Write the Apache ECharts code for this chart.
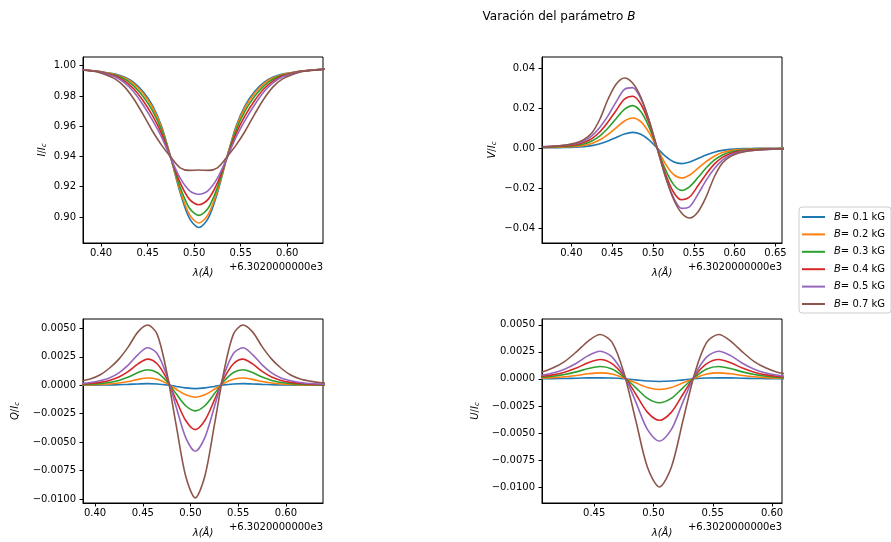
<!DOCTYPE html>
<html><head><meta charset="utf-8">
<script src="https://cdn.jsdelivr.net/npm/echarts@6/dist/echarts.min.js"></script>
<style>html,body{margin:0;padding:0;background:#fff}#c{width:891px;height:542px}</style>
</head><body><div id="c"></div>
<script>
// wavelength offsets (Å) relative to 6302.0 Å
const lam = [0.365,0.375,0.385,0.395,0.405,0.415,0.425,0.435,0.445,0.455,0.465,0.475,0.485,0.495,0.505,0.515,0.525,0.535,0.545,0.555,0.565,0.575,0.585,0.595,0.605,0.615,0.625,0.635,0.645,0.655,0.665];
const names = ["B= 0.1 kG","B= 0.2 kG","B= 0.3 kG","B= 0.4 kG","B= 0.5 kG","B= 0.7 kG"];

// Stokes I / Ic
const I_01 = [0.998,0.9975,0.997,0.9965,0.9955,0.9945,0.9925,0.989,0.983,0.974,0.960,0.939,0.916,0.899,0.893,0.899,0.916,0.939,0.960,0.974,0.983,0.989,0.9925,0.9945,0.9955,0.9965,0.997,0.9975,0.998,0.9982,0.9984];
const I_02 = [0.998,0.9975,0.997,0.9965,0.9954,0.9942,0.992,0.9882,0.9818,0.9727,0.959,0.939,0.9173,0.9015,0.896,0.9015,0.9173,0.939,0.959,0.9727,0.9818,0.9882,0.992,0.9942,0.9954,0.9965,0.997,0.9975,0.998,0.9982,0.9984];
const I_03 = [0.998,0.9975,0.997,0.9964,0.9952,0.9938,0.9912,0.9867,0.9798,0.9704,0.9574,0.9389,0.9195,0.9057,0.901,0.9057,0.9195,0.9389,0.9574,0.9704,0.9798,0.9867,0.9912,0.9938,0.9952,0.9964,0.997,0.9975,0.998,0.9982,0.9984];
const I_04 = [0.998,0.9975,0.997,0.9963,0.995,0.9933,0.99,0.9848,0.977,0.9673,0.9551,0.9388,0.9225,0.9116,0.908,0.9116,0.9225,0.9388,0.9551,0.9673,0.977,0.9848,0.99,0.9933,0.995,0.9963,0.997,0.9975,0.998,0.9982,0.9984];
const I_05 = [0.9979,0.9974,0.9969,0.9962,0.9947,0.9927,0.9888,0.9828,0.9742,0.9642,0.9528,0.9387,0.9256,0.9174,0.915,0.9174,0.9256,0.9387,0.9528,0.9642,0.9742,0.9828,0.9888,0.9927,0.9947,0.9962,0.9969,0.9974,0.9979,0.9981,0.9983];
const I_07 = [0.9979,0.9974,0.9968,0.996,0.9941,0.9913,0.9862,0.9782,0.968,0.957,0.9475,0.9395,0.9325,0.9308,0.931,0.9308,0.9325,0.9395,0.9475,0.957,0.968,0.9782,0.9862,0.9913,0.9941,0.996,0.9968,0.9974,0.9979,0.9981,0.9983];

// Stokes V / Ic
const V_01 = [0.00012,0.00016,0.0002,0.0003,0.0004,0.0007,0.0012,0.0021,0.0035,0.0053,0.0070,0.0078,0.0069,0.0041,0,-0.0041,-0.0069,-0.0078,-0.0070,-0.0053,-0.0035,-0.0021,-0.0012,-0.0007,-0.0004,-0.0003,-0.0002,-0.00016,-0.00012,-0.0001,-0.00008];
const V_02 = [0.00024,0.0003,0.0004,0.0006,0.0008,0.0013,0.0023,0.0041,0.0068,0.0102,0.0135,0.0150,0.0132,0.0078,0,-0.0078,-0.0132,-0.0150,-0.0135,-0.0102,-0.0068,-0.0041,-0.0023,-0.0013,-0.0008,-0.0006,-0.0004,-0.0003,-0.00024,-0.0002,-0.00016];
const V_03 = [0.0004,0.0005,0.00066,0.0009,0.0013,0.0020,0.0035,0.0061,0.0100,0.0148,0.0193,0.0212,0.0182,0.0106,0,-0.0106,-0.0182,-0.0212,-0.0193,-0.0148,-0.0100,-0.0061,-0.0035,-0.0020,-0.0013,-0.0009,-0.00066,-0.0005,-0.0004,-0.0003,-0.00025];
const V_04 = [0.0005,0.00066,0.0009,0.0012,0.0017,0.0028,0.0047,0.0081,0.0131,0.0189,0.0244,0.0259,0.0220,0.0126,0,-0.0126,-0.0220,-0.0259,-0.0244,-0.0189,-0.0131,-0.0081,-0.0047,-0.0028,-0.0017,-0.0012,-0.0009,-0.00066,-0.0005,-0.0004,-0.0003];
const V_05 = [0.0006,0.0008,0.0011,0.0015,0.0021,0.0035,0.0061,0.0104,0.0162,0.0232,0.0293,0.0302,0.0247,0.0140,0,-0.0140,-0.0247,-0.0302,-0.0293,-0.0232,-0.0162,-0.0104,-0.0061,-0.0035,-0.0021,-0.0015,-0.0011,-0.0008,-0.0006,-0.0005,-0.0004];
const V_07 = [0.0006,0.0008,0.0011,0.0016,0.0025,0.0042,0.0075,0.0145,0.0245,0.0320,0.0350,0.0325,0.0255,0.0140,0,-0.0140,-0.0255,-0.0325,-0.0350,-0.0320,-0.0245,-0.0145,-0.0075,-0.0042,-0.0025,-0.0016,-0.0011,-0.0008,-0.0006,-0.0005,-0.0004];

// Stokes Q / Ic
const Q_01 = [0.00001,0.00001,0.00001,0.00001,0.00002,0.00003,0.00005,0.00008,0.00012,0.00015,0.00012,0.00004,-0.0001,-0.00023,-0.00029,-0.00023,-0.0001,0.00004,0.00012,0.00015,0.00012,0.00008,0.00005,0.00003,0.00002,0.00001,0.00001,0.00001,0.00001,0.00001,0.00001];
const Q_02 = [0.00002,0.00002,0.00003,0.00004,0.00007,0.00012,0.0002,0.00033,0.00052,0.00064,0.00053,0.00017,-0.00035,-0.00084,-0.00105,-0.00084,-0.00035,0.00017,0.00053,0.00064,0.00052,0.00033,0.0002,0.00012,0.00007,0.00004,0.00003,0.00002,0.00002,0.00002,0.00001];
const Q_03 = [0.00003,0.00004,0.00006,0.00009,0.00015,0.00025,0.00043,0.00072,0.00112,0.00137,0.00113,0.00036,-0.00075,-0.0018,-0.00225,-0.0018,-0.00075,0.00036,0.00113,0.00137,0.00112,0.00072,0.00043,0.00025,0.00015,0.00009,0.00006,0.00004,0.00003,0.00002,0.00002];
const Q_04 = [0.00005,0.00007,0.0001,0.00016,0.00026,0.00043,0.00073,0.00122,0.00188,0.0023,0.0019,0.0006,-0.0013,-0.0031,-0.0039,-0.0031,-0.0013,0.0006,0.0019,0.0023,0.00188,0.00122,0.00073,0.00043,0.00026,0.00016,0.0001,0.00007,0.00005,0.00004,0.00003];
const Q_05 = [0.00008,0.00011,0.00016,0.00024,0.0004,0.00065,0.0011,0.0018,0.0027,0.0033,0.0028,0.0009,-0.0019,-0.0046,-0.0058,-0.0046,-0.0019,0.0009,0.0028,0.0033,0.0027,0.0018,0.0011,0.00065,0.0004,0.00024,0.00016,0.00011,0.00008,0.00006,0.00005];
const Q_07 = [0.00018,0.00025,0.00037,0.00055,0.0009,0.0015,0.0023,0.0034,0.0047,0.0053,0.0045,0.0012,-0.0035,-0.0080,-0.0099,-0.0080,-0.0035,0.0012,0.0045,0.0053,0.0047,0.0034,0.0023,0.0015,0.0009,0.00055,0.00037,0.00025,0.00018,0.00014,0.0001];

// Stokes U / Ic
const U_01 = [0.00001,0.00001,0.00001,0.00001,0.00001,0.00002,0.00004,0.00006,0.00009,0.0001,0.00008,0.00002,-0.00009,-0.0002,-0.00024,-0.0002,-0.00009,0.00002,0.00008,0.0001,0.00009,0.00006,0.00004,0.00002,0.00001,0.00001,0.00001,0.00001,0.00001,0.00001,0.00001];
const U_02 = [0.00002,0.00002,0.00003,0.00004,0.00007,0.00012,0.0002,0.00032,0.00047,0.00056,0.00045,0.00008,-0.00036,-0.0008,-0.00098,-0.0008,-0.00036,0.00008,0.00045,0.00056,0.00047,0.00032,0.0002,0.00012,0.00007,0.00004,0.00003,0.00002,0.00002,0.00002,0.00002];
const U_03 = [0.00002,0.00003,0.00005,0.00008,0.00014,0.00024,0.0004,0.00065,0.00096,0.00115,0.00092,0.00018,-0.0008,-0.0018,-0.0022,-0.0018,-0.0008,0.00018,0.00092,0.00115,0.00096,0.00065,0.0004,0.00024,0.00014,0.00008,0.00005,0.00003,0.00002,0.00002,0.00001];
const U_04 = [0.00004,0.00005,0.00008,0.00013,0.00022,0.00037,0.00062,0.001,0.0015,0.0018,0.00142,0.0003,-0.0014,-0.0031,-0.00383,-0.0031,-0.0014,0.0003,0.00142,0.0018,0.0015,0.001,0.00062,0.00037,0.00022,0.00013,0.00008,0.00005,0.00004,0.00003,0.00002];
const U_05 = [0.00006,0.00009,0.00013,0.0002,0.00033,0.00055,0.0009,0.00145,0.00215,0.00255,0.00203,0.0004,-0.0021,-0.0047,-0.00575,-0.0047,-0.0021,0.0004,0.00203,0.00255,0.00215,0.00145,0.0009,0.00055,0.00033,0.0002,0.00013,0.00009,0.00006,0.00004,0.00003];
const U_07 = [0.00012,0.00018,0.00027,0.0004,0.0006,0.001,0.0016,0.0025,0.0035,0.0041,0.0034,0.0006,-0.0038,-0.0082,-0.0100,-0.0082,-0.0038,0.0006,0.0034,0.0041,0.0035,0.0025,0.0016,0.001,0.0006,0.0004,0.00027,0.00018,0.00012,0.00009,0.00007];

// tick values
const xTicksI = [0.40,0.45,0.50,0.55,0.60];
const xTicksV = [0.40,0.45,0.50,0.55,0.60,0.65];
const xTicksQ = [0.40,0.45,0.50,0.55,0.60];
const xTicksU = [0.45,0.50,0.55,0.60];
const yTicksI = [0.90,0.92,0.94,0.96,0.98,1.00];
const yTicksV = [-0.04,-0.02,0.00,0.02,0.04];
const yTicksQ = [-0.0100,-0.0075,-0.0050,-0.0025,0.0000,0.0025,0.0050];
const yTicksU = [-0.0100,-0.0075,-0.0050,-0.0025,0.0000,0.0025,0.0050];
const offsetText = "+6.3020000000e3";

const colors = ['#1f77b4','#ff7f0e','#2ca02c','#d62728','#9467bd','#8c564b'];
const FF = 'DejaVu Sans';
const fmt = d => v => v.toFixed(d).replace('-', '\u2212');

const panels = [
  {grid:{left:83, top:57, width:240, height:186}, xr:[0.3806,0.6384], yr:[0.88275,1.00577], xt:xTicksI, yt:yTicksI, yd:2, ylab:'I', sets:[I_01,I_02,I_03,I_04,I_05,I_07], yGap:35, xGap:25},
  {grid:{left:542, top:57, width:240, height:186}, xr:[0.364,0.658], yr:[-0.04753,0.04552], xt:xTicksV, yt:yTicksV, yd:2, ylab:'V', sets:[V_01,V_02,V_03,V_04,V_05,V_07], yGap:44, xGap:25},
  {grid:{left:83, top:319, width:240, height:184}, xr:[0.3874,0.6388], yr:[-0.01035,0.00583], xt:xTicksQ, yt:yTicksQ, yd:4, ylab:'Q', sets:[Q_01,Q_02,Q_03,Q_04,Q_05,Q_07], yGap:62, xGap:25},
  {grid:{left:542, top:319, width:240, height:184}, xr:[0.406,0.6084], yr:[-0.01148,0.00554], xt:xTicksU, yt:yTicksU, yd:4, ylab:'U', sets:[U_01,U_02,U_03,U_04,U_05,U_07], yGap:61, xGap:25}
];

const grid = [], xAxis = [], yAxis = [], series = [], graphic = [];
panels.forEach((p, k) => {
  grid.push(Object.assign({show:true, borderColor:'#000', borderWidth:1, backgroundColor:'#fff', containLabel:false, outerBoundsMode:'none'}, p.grid));
  xAxis.push({
    type:'value', gridIndex:k, min:p.xr[0], max:p.xr[1],
    axisLine:{show:true, onZero:false, lineStyle:{color:'#000', width:1}},
    splitLine:{show:false},
    axisTick:{show:true, length:3.5, lineStyle:{color:'#000'}, customValues:p.xt},
    axisLabel:{color:'#000', fontSize:10, fontFamily:FF, margin:5, customValues:p.xt, formatter:fmt(2)},
    name:'λ(Å)', nameLocation:'middle', nameGap:p.xGap,
    nameTextStyle:{color:'#000', fontSize:10, fontFamily:FF, fontStyle:'italic'}
  });
  yAxis.push({
    type:'value', gridIndex:k, min:p.yr[0], max:p.yr[1],
    axisLine:{show:true, onZero:false, lineStyle:{color:'#000', width:1}},
    splitLine:{show:false},
    axisTick:{show:true, length:3.5, lineStyle:{color:'#000'}, customValues:p.yt},
    axisLabel:{color:'#000', fontSize:10, fontFamily:FF, margin:7, customValues:p.yt, formatter:fmt(p.yd)},
    name:'{i|' + p.ylab + '}{n|/}{i|I}{s|c}', nameLocation:'middle', nameRotate:90, nameGap:p.yGap,
    nameTextStyle:{color:'#000', fontSize:10, fontFamily:FF, rich:{
      i:{fontStyle:'italic', fontSize:10, fontFamily:FF, color:'#000'},
      n:{fontSize:10, fontFamily:FF, color:'#000'},
      s:{fontStyle:'italic', fontSize:7, fontFamily:FF, color:'#000', padding:[5,0,0,0]}
    }}
  });
  p.sets.forEach((vals, j) => {
    series.push({
      type:'line', name:names[j], xAxisIndex:k, yAxisIndex:k,
      data: lam.map((x, i) => [x, vals[i]]),
      showSymbol:false, symbol:'none', smooth:0.3, clip:true,
      lineStyle:{width:1.6, color:colors[j]}, itemStyle:{color:colors[j]},
      emphasis:{disabled:true}, animation:false, z:2+j
    });
  });
  graphic.push({
    type:'text', right: 891 - (p.grid.left + p.grid.width), top: p.grid.top + p.grid.height + 19,
    style:{text:offsetText, fill:'#000', font:'10px "DejaVu Sans"'}
  });
});

const chart = echarts.init(document.getElementById('c'), null, {renderer:'canvas'});
chart.setOption({
  backgroundColor:'#fff',
  animation:false,
  title:{
    text:'{n|Varación del parámetro }{i|B}', left:554, top:6, textAlign:'center',
    textStyle:{fontSize:12, fontFamily:FF, color:'#000', fontWeight:'normal', rich:{
      n:{fontSize:12, fontFamily:FF, color:'#000'},
      i:{fontSize:12, fontFamily:FF, color:'#000', fontStyle:'italic'}
    }}
  },
  legend:{
    data:names, orient:'vertical', left:799, top:207,
    padding:[5,6,4,3], itemGap:7.4, itemWidth:23, itemHeight:2, icon:'rect',
    backgroundColor:'#fff', borderColor:'#cccccc', borderWidth:1, borderRadius:3,
    formatter: n => '{i|B}' + n.slice(1),
    textStyle:{fontSize:10, fontFamily:FF, color:'#000', padding:[0,0,0,4], rich:{
      i:{fontStyle:'italic', fontSize:10, fontFamily:FF, color:'#000'}
    }},
    selectedMode:false
  },
  grid, xAxis, yAxis, series, graphic
});
</script></body></html>
